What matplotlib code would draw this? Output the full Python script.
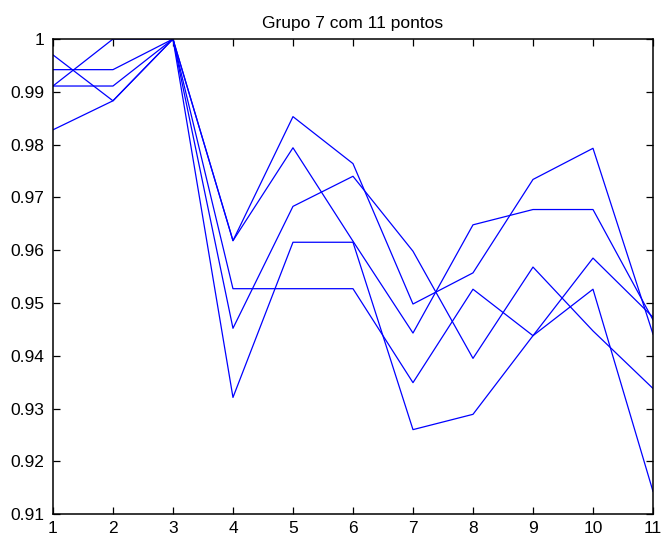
import numpy as np
import matplotlib
matplotlib.use("Agg")
import matplotlib.pyplot as plt

plt.rcParams['font.family'] = ['Liberation Sans', 'DejaVu Sans']

# pontos do grupo 7
x = [1, 2, 3, 4, 5, 6, 7, 8, 9, 10, 11]
serie_a = [0.9911, 1.0, 1.0, 0.9618, 0.9853, 0.9764, 0.9498, 0.9557, 0.9734, 0.9793, 0.9441]
serie_b = [0.9970, 0.9883, 1.0, 0.9618, 0.9794, 0.9617, 0.9443, 0.9648, 0.9677, 0.9677, 0.9468]
serie_c = [0.9942, 0.9942, 1.0, 0.9452, 0.9683, 0.9740, 0.9598, 0.9395, 0.9568, 0.9447, 0.9338]
serie_d = [0.9828, 0.9883, 1.0, 0.9321, 0.9615, 0.9615, 0.9260, 0.9289, 0.9438, 0.9526, 0.9143]
serie_e = [0.9911, 0.9911, 1.0, 0.9527, 0.9527, 0.9527, 0.9349, 0.9526, 0.9438, 0.9585, 0.9473]

yticks = [0.91, 0.92, 0.93, 0.94, 0.95, 0.96, 0.97, 0.98, 0.99, 1.0]
ytick_labels = ['0.91', '0.92', '0.93', '0.94', '0.95', '0.96', '0.97', '0.98', '0.99', '1']

fig = plt.figure(figsize=(6.62, 5.40), dpi=100)
ax = fig.add_axes([0.080, 0.048, 0.9064, 0.8797])

for s in [serie_a, serie_b, serie_c, serie_d, serie_e]:
    ax.plot(x, s, color=(0, 0, 1), linewidth=0.9)

ax.set_xlim(1, 11)
ax.set_ylim(0.91, 1.0)
ax.set_xticks(x)
ax.set_yticks(yticks)
ax.set_yticklabels(ytick_labels)
ax.tick_params(direction='in', length=5, width=0.9, top=True, right=True,
               labelsize=12.5)
ax.tick_params(axis='y', pad=6)
ax.tick_params(axis='x', pad=5)
for sp in ax.spines.values():
    sp.set_linewidth(1.1)

ax.set_title('Grupo 7 com 11 pontos', fontsize=12.5, pad=8)

plt.savefig('out.png', dpi=100)
